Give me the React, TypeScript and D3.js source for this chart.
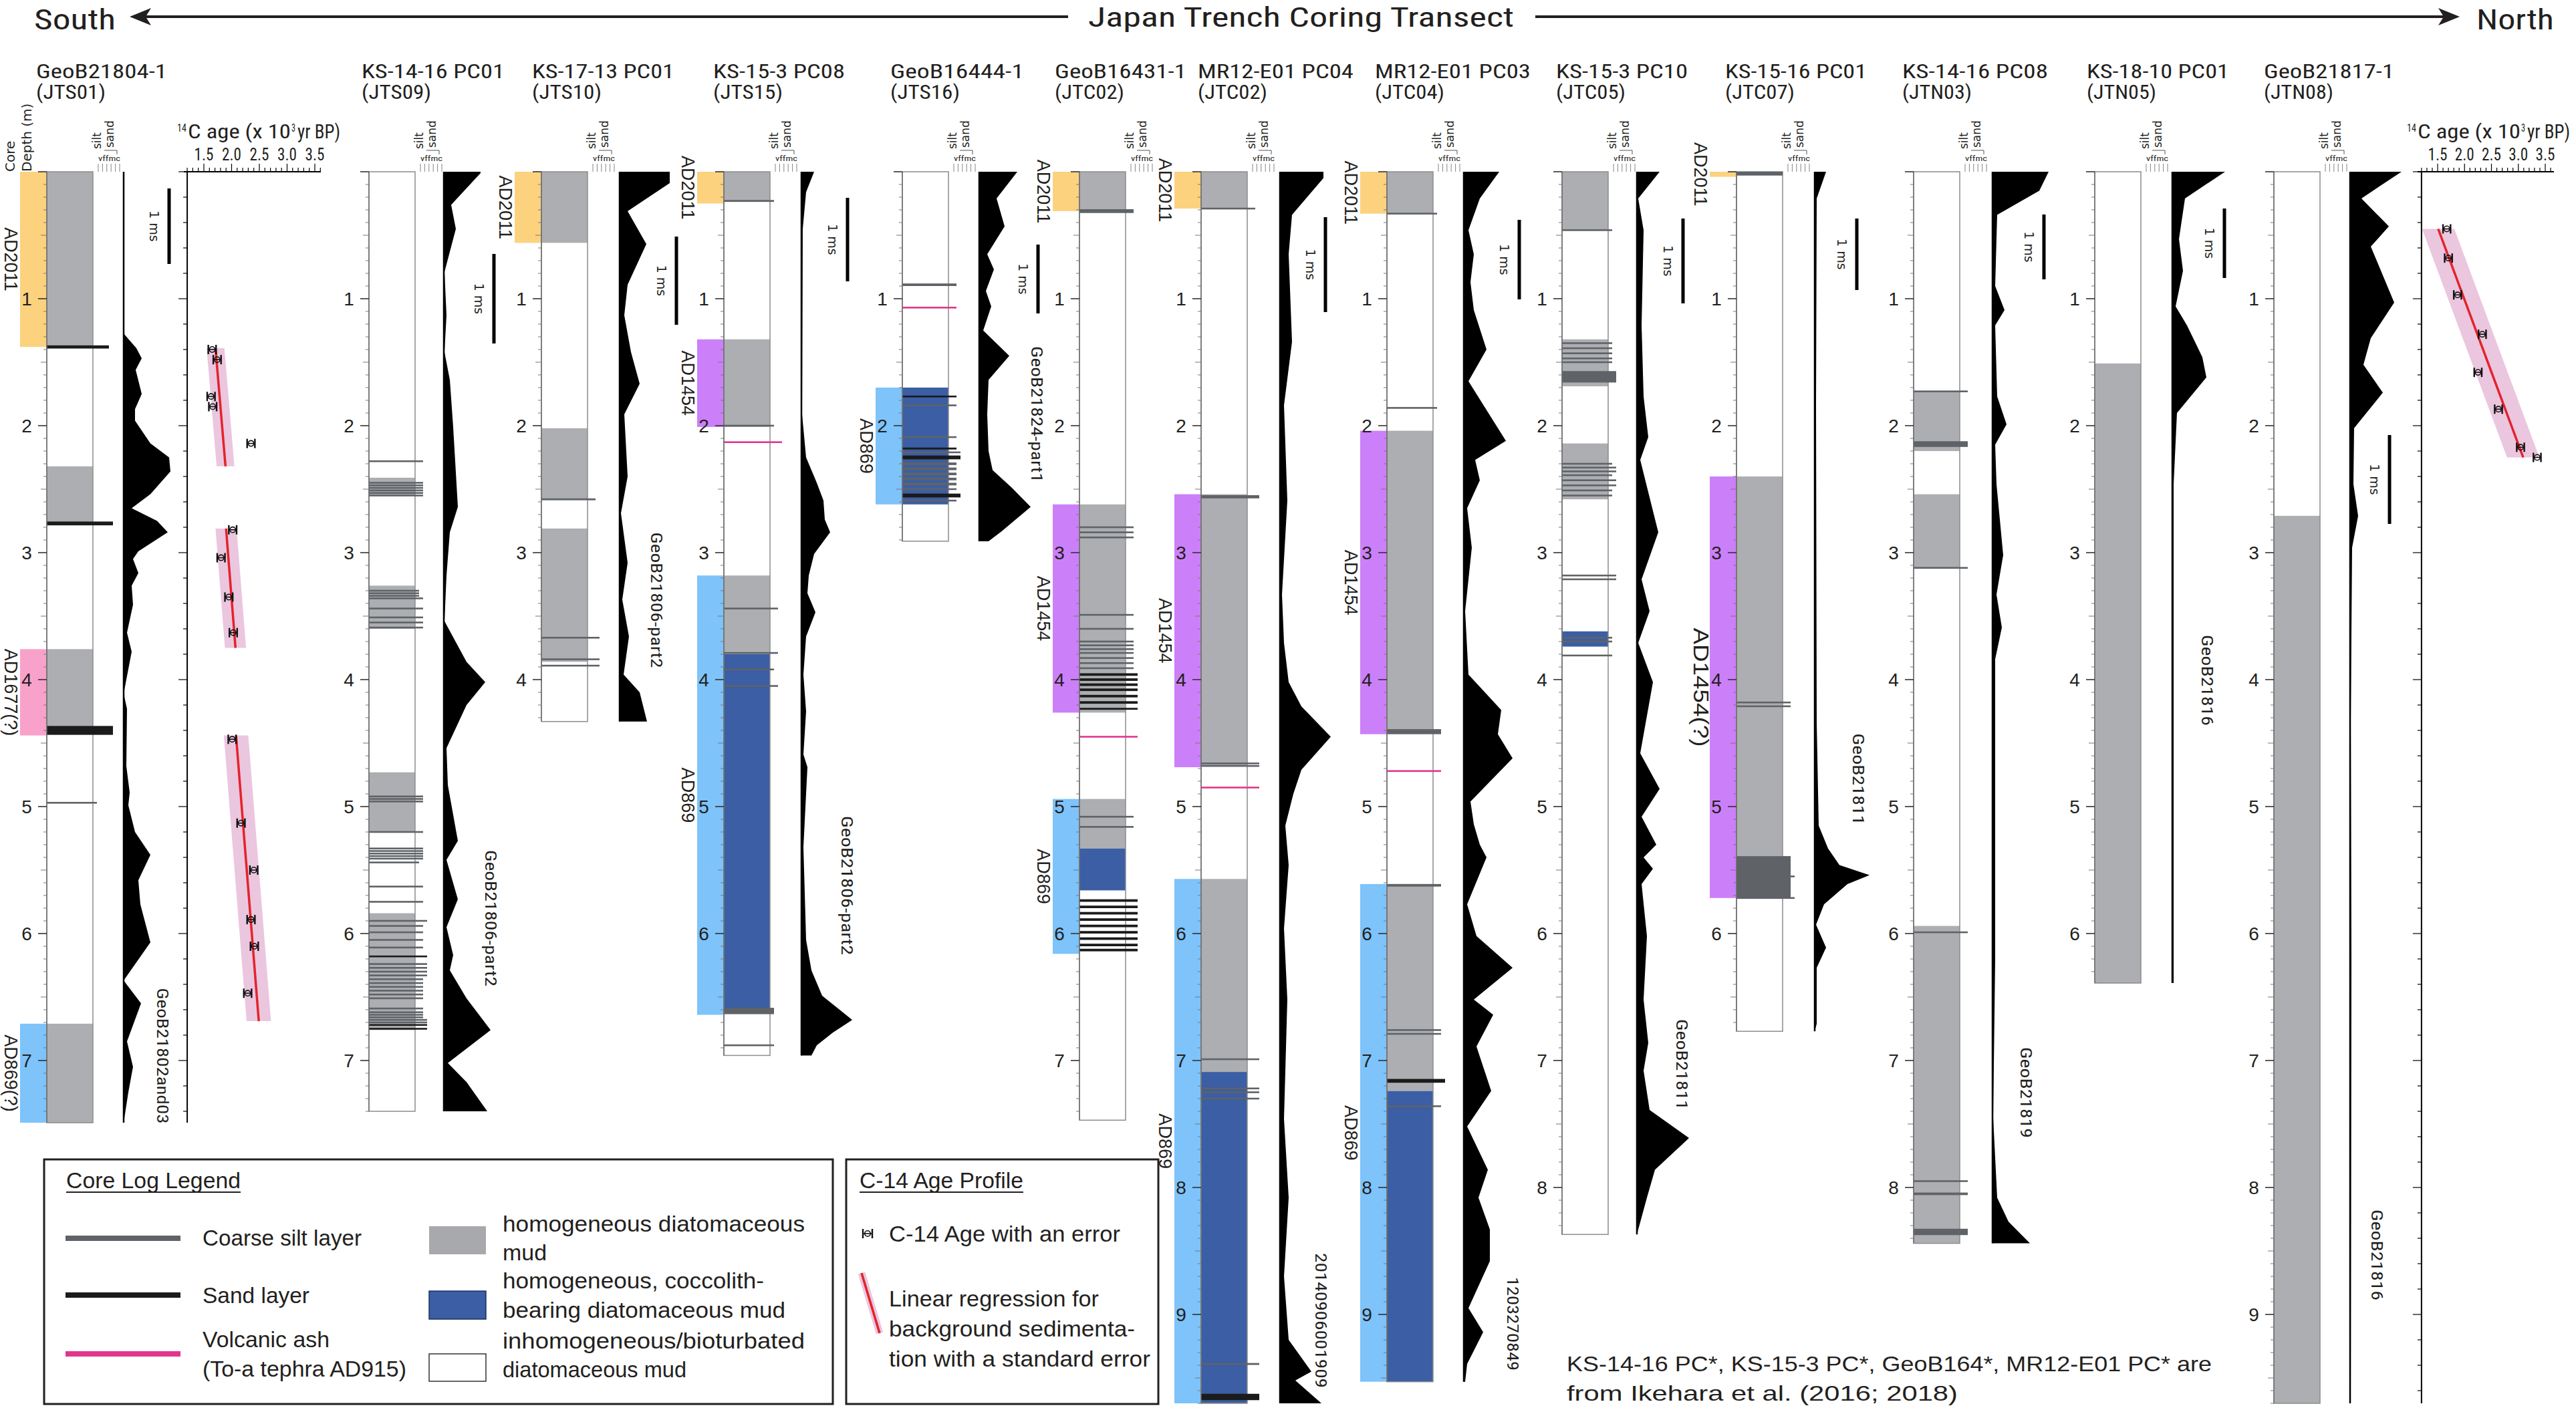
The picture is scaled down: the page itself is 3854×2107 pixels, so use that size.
import React from 'react';
import * as d3 from 'd3';

const W = 3854;
const H = 2107;

// ================= DATA =================
const coreNames = ['GeoB21804-1', 'KS-14-16 PC01', 'KS-17-13 PC01', 'KS-15-3 PC08', 'GeoB16444-1', 'GeoB16431-1', 'MR12-E01 PC04', 'MR12-E01 PC03', 'KS-15-3 PC10', 'KS-15-16 PC01', 'KS-14-16 PC08', 'KS-18-10 PC01', 'GeoB21817-1'];
const coreSites = ['(JTS01)', '(JTS09)', '(JTS10)', '(JTS15)', '(JTS16)', '(JTC02)', '(JTC02)', '(JTC04)', '(JTC05)', '(JTC07)', '(JTN03)', '(JTN05)', '(JTN08)'];
const coreLengths = [7.49, 7.40, 4.33, 6.96, 2.91, 7.47, 9.70, 9.53, 8.37, 6.77, 8.44, 6.39, 9.70];
const profileLabels = ['GeoB21802and03', 'GeoB21806-part2', 'GeoB21806-part2', 'GeoB21806-part2', 'GeoB21824-part1', '', '20140906001909', '1203270849', 'GeoB21811', 'GeoB21811', 'GeoB21819', 'GeoB21816', 'GeoB21816'];

// units: [top m, bottom m, type] g = homogeneous diatomaceous mud, b = coccolith-bearing
const units01 = [[0, 1.38, 'g'], [2.32, 2.77, 'g'], [3.76, 4.37, 'g'], [6.71, 7.49, 'g']];
const units02 = [[2.41, 2.55, 'g'], [3.26, 3.60, 'g'], [4.73, 5.20, 'g'], [5.84, 6.76, 'g']];
const units03 = [[0, 0.56, 'g'], [2.02, 2.58, 'g'], [2.81, 3.86, 'g']];
const units04 = [[0, 0.23, 'g'], [1.32, 2.01, 'g'], [3.18, 3.80, 'g'], [3.80, 6.61, 'b']];
const units05 = [[1.70, 2.62, 'b']];
const units06 = [[0, 0.31, 'g'], [2.62, 4.26, 'g'], [4.94, 5.33, 'g'], [5.33, 5.66, 'b']];
const units07 = [[0, 0.29, 'g'], [2.54, 4.68, 'g'], [5.57, 7.09, 'g'], [7.09, 9.70, 'b']];
const units08 = [[0, 0.33, 'g'], [2.04, 4.40, 'g'], [5.61, 7.24, 'g'], [7.24, 9.53, 'b']];
const units09 = [[0, 0.46, 'g'], [1.32, 1.69, 'g'], [2.14, 2.58, 'g'], [3.62, 3.74, 'b']];
const units10 = [[2.40, 5.39, 'g']];
const units11 = [[1.73, 2.20, 'g'], [2.54, 3.12, 'g'], [5.94, 8.44, 'g']];
const units12 = [[1.51, 6.39, 'g']];
const units13 = [[2.71, 9.70, 'g']];

// event deposits: [top m, bottom m, label]
const events01 = [[0, 1.38, 'AD2011'], [3.76, 4.44, 'AD1677(?)'], [6.71, 7.49, 'AD869(?)']];
const events02 = [];
const events03 = [[0, 0.56, 'AD2011']];
const events04 = [[0, 0.25, 'AD2011'], [1.32, 2.01, 'AD1454'], [3.18, 6.64, 'AD869']];
const events05 = [[1.70, 2.62, 'AD869']];
const events06 = [[0, 0.31, 'AD2011'], [2.62, 4.26, 'AD1454'], [4.94, 6.16, 'AD869']];
const events07 = [[0, 0.29, 'AD2011'], [2.54, 4.69, 'AD1454'], [5.57, 9.70, 'AD869']];
const events08 = [[0, 0.33, 'AD2011'], [2.04, 4.43, 'AD1454'], [5.61, 9.53, 'AD869']];
const events09 = [];
const events10 = [[0, 0.04, 'AD2011'], [2.40, 5.72, 'AD1454(?)']];
const events11 = [];
const events12 = [];
const events13 = [];

// layers: [depth m, type (s coarse silt, S sand, t tephra), thickness cm, grain class 0-5]
const layers01 = [[1.38, 'S', 2.5, 4], [2.77, 'S', 3, 5], [4.40, 'S', 7, 5], [4.97, 's', 1.2, 1]];
const layers02 = [
  [2.28, 's', 1, 2], [2.45, 's', 0.8, 2], [2.47, 's', 0.8, 2], [2.49, 's', 0.8, 2], [2.51, 's', 0.8, 2], [2.53, 's', 0.8, 2], [2.55, 's', 0.8, 2],
  [3.30, 's', 0.8, 1], [3.32, 's', 0.8, 1], [3.34, 's', 0.8, 1], [3.36, 's', 0.8, 2], [3.44, 's', 0.8, 2], [3.51, 's', 0.8, 2], [3.55, 's', 0.8, 2], [3.59, 's', 0.8, 2],
  [4.92, 's', 0.8, 2], [4.94, 's', 0.8, 2], [4.96, 's', 0.8, 2], [5.20, 's', 0.8, 2],
  [5.33, 's', 0.8, 2], [5.35, 's', 0.8, 2], [5.37, 's', 0.8, 2], [5.39, 's', 0.8, 2], [5.41, 's', 0.8, 2], [5.44, 's', 0.6, 1],
  [5.63, 's', 0.8, 2], [5.75, 's', 0.6, 2],
  [5.90, 's', 0.8, 3], [5.94, 's', 0.6, 2], [5.99, 's', 0.6, 2], [6.05, 's', 0.6, 2], [6.11, 's', 0.6, 2], [6.18, 'S', 1.2, 3],
  [6.24, 's', 0.6, 3], [6.27, 's', 0.6, 3], [6.30, 's', 0.6, 3], [6.33, 's', 0.6, 3], [6.36, 's', 0.6, 2], [6.39, 's', 0.6, 2], [6.42, 's', 0.6, 2], [6.45, 's', 0.6, 2], [6.48, 's', 0.6, 2], [6.51, 's', 0.6, 2],
  [6.59, 's', 0.6, 2], [6.62, 's', 0.6, 2], [6.64, 's', 0.6, 2], [6.66, 's', 0.6, 2], [6.68, 's', 0.6, 3], [6.70, 's', 0.6, 3], [6.72, 'S', 0.8, 3], [6.75, 'S', 0.8, 3],
];
const layers03 = [[2.58, 's', 1.5, 2], [3.67, 's', 0.8, 3], [3.84, 's', 0.8, 3], [3.89, 's', 1.2, 3]];
const layers04 = [[0.23, 's', 1.5, 1], [2.0, 's', 1, 1], [2.13, 't', 1.2, 3], [3.44, 's', 1, 2], [3.79, 's', 1, 2], [3.92, 's', 1, 1], [4.05, 's', 1, 2], [6.61, 's', 5, 1], [6.88, 's', 1, 1]];
const layers05 = [[0.89, 's', 2, 2], [1.07, 't', 1, 2], [1.77, 'S', 1.2, 2], [1.84, 's', 1, 2], [2.09, 's', 1, 2], [2.18, 'S', 1.5, 2], [2.21, 's', 1, 3], [2.25, 'S', 3, 3], [2.30, 's', 2, 2], [2.34, 's', 2, 2], [2.38, 's', 2, 2], [2.42, 's', 2, 2], [2.46, 's', 2, 2], [2.50, 's', 1, 2], [2.55, 'S', 3, 3], [2.59, 's', 1, 2]];
const layers06 = [
  [0.31, 's', 3, 2], [2.80, 's', 0.8, 2], [2.84, 's', 0.8, 2], [2.88, 's', 0.8, 2], [3.49, 's', 0.8, 2], [3.60, 's', 0.8, 2], [3.70, 's', 0.8, 2], [3.73, 's', 0.8, 2], [3.76, 's', 0.8, 2], [3.79, 's', 0.8, 2], [3.83, 's', 0.8, 2], [3.87, 's', 0.8, 2], [3.91, 's', 1, 2],
  [3.96, 'S', 2, 3], [4.00, 'S', 2, 3], [4.04, 'S', 2, 3], [4.08, 'S', 2, 3], [4.13, 'S', 2, 3], [4.18, 'S', 2, 3], [4.23, 'S', 1.5, 3],
  [4.45, 't', 0.8, 3], [5.08, 's', 1, 2], [5.16, 's', 1, 2],
  [5.74, 'S', 2, 3], [5.79, 'S', 2, 3], [5.84, 'S', 2, 3], [5.89, 'S', 2, 3], [5.94, 'S', 2, 3], [5.99, 'S', 2, 3], [6.04, 'S', 2, 3], [6.09, 'S', 2, 3], [6.13, 'S', 2, 3],
];
const layers07 = [[0.29, 's', 0.6, 2], [2.56, 's', 2.5, 3], [4.66, 's', 0.6, 3], [4.68, 's', 0.6, 3], [4.85, 't', 0.6, 3], [6.99, 's', 0.6, 3], [7.22, 's', 0.8, 3], [7.25, 's', 0.8, 3], [7.30, 's', 0.8, 3], [9.39, 's', 1.5, 3], [9.65, 'S', 5, 3]];
const layers08 = [[0.33, 's', 1, 1], [1.86, 's', 1, 1], [4.41, 's', 4, 2], [4.72, 't', 0.8, 2], [5.62, 's', 2, 2], [6.76, 's', 0.6, 2], [6.79, 's', 0.6, 2], [7.16, 'S', 3, 3], [7.36, 's', 0.6, 2]];
const layers09 = [[0.46, 's', 0.8, 1], [1.35, 's', 0.6, 1], [1.39, 's', 0.6, 1], [1.43, 's', 0.6, 1], [1.47, 's', 0.6, 1], [1.50, 's', 0.6, 1], [1.615, 's', 9, 2], [2.30, 's', 0.8, 1], [2.33, 's', 0.8, 2], [2.36, 's', 0.8, 2], [2.39, 's', 0.8, 1], [2.43, 's', 0.8, 2], [2.47, 's', 0.8, 2], [2.51, 's', 0.8, 1], [2.55, 's', 0.8, 1], [3.18, 's', 0.6, 2], [3.21, 's', 0.6, 2], [3.67, 's', 0.6, 1], [3.70, 's', 0.6, 1], [3.81, 's', 0.6, 1]];
const layers10 = [[0.015, 's', 3, 0], [4.18, 's', 0.6, 2], [4.21, 's', 0.6, 2], [5.555, 's', 33, 2], [5.55, 's', 0.4, 3], [5.72, 's', 0.4, 3]];
const layers11 = [[1.73, 's', 0.8, 2], [2.145, 's', 4.5, 2], [3.12, 's', 1.2, 2], [5.99, 's', 0.8, 2], [7.95, 's', 0.8, 2], [8.05, 's', 2, 2], [8.35, 's', 5, 2]];
const layers12 = [];
const layers13 = [];

// right-hand black profiles: [depth m, amplitude]
const profile01 = [[0, 1], [1.28, 1], [1.39, 19], [1.47, 27], [1.56, 18], [1.75, 27], [1.87, 17], [1.96, 17], [2.14, 40], [2.25, 68], [2.36, 70], [2.54, 40], [2.65, 12], [2.75, 50], [2.84, 66], [2.99, 22], [3.05, 14], [3.16, 22], [3.26, 12], [3.41, 14], [3.63, 5], [3.78, 12], [4.11, 0], [4.23, 5], [4.68, 4], [4.89, 9], [4.99, 7], [5.20, 17], [5.38, 40], [5.58, 22], [5.77, 25], [6.07, 40], [6.37, 0], [6.55, 26], [6.85, 5], [7.05, 14], [7.25, 7], [7.49, 0]];
const profile02 = [[0, 55], [0.01, 55], [0.26, 11], [0.45, 18], [0.79, 1], [1.13, 4], [1.42, 1], [1.64, 9], [2.01, 14], [2.64, 21], [2.84, 9], [3.18, 4], [3.54, 1], [3.86, 34], [4.02, 62], [4.20, 34], [4.54, 4], [4.83, 6], [5.27, 21], [5.42, 4], [5.73, 21], [5.95, 4], [6.17, 14], [6.29, 9], [6.51, 34], [6.76, 70], [7.02, 6], [7.17, 34], [7.40, 65]];
const profile03 = [[0, 75], [0.09, 75], [0.31, 12], [0.57, 40], [0.89, 12], [1.13, 7], [1.42, 17], [1.67, 30], [1.91, 7], [2.40, 12], [2.69, 2], [3.08, 12], [3.37, 4], [3.66, 14], [3.96, 6], [4.10, 30], [4.33, 41]];
const profile04 = [[0, 19], [0.16, 7], [0.45, 2], [1.91, 1], [2.25, 7], [2.45, 23], [2.59, 33], [2.74, 35], [2.84, 43], [3.01, 19], [3.18, 11], [3.32, 9], [3.47, 21], [3.66, 7], [3.96, 3], [4.25, 7], [4.59, 3], [4.69, 9], [5.32, 3], [6.05, 7], [6.29, 15], [6.49, 31], [6.68, 76], [6.78, 47], [6.88, 23], [6.96, 15]];
const profile05 = [[0, 57], [0.21, 26], [0.43, 38], [0.65, 12], [0.77, 22], [0.94, 10], [1.06, 18], [1.25, 6], [1.45, 45], [1.64, 14], [1.91, 12], [2.20, 14], [2.35, 20], [2.49, 49], [2.64, 77], [2.83, 34], [2.91, 14]];
const profile06 = [];
const profile07 = [[0, 65], [0.05, 65], [0.34, 18], [0.65, 13], [1.34, 18], [1.84, 6], [2.59, 11], [3.33, 3], [3.71, 6], [4.02, 13], [4.21, 32], [4.45, 76], [4.71, 32], [4.90, 20], [5.15, 8], [5.46, 13], [5.96, 6], [6.52, 11], [7.46, 6], [8.08, 13], [8.70, 6], [9.20, 13], [9.45, 47], [9.52, 23], [9.70, 62]];
const profile08 = [[0, 53], [0.21, 24], [0.46, 7], [0.65, 15], [0.87, 10], [1.09, 15], [1.40, 34], [1.65, 7], [2.12, 63], [2.27, 17], [2.43, 24], [2.65, 5], [2.96, 12], [3.46, 2], [3.96, 7], [4.24, 56], [4.43, 51], [4.62, 73], [4.96, 10], [5.14, 15], [5.30, 24], [5.40, 34], [5.77, 5], [6.02, 19], [6.27, 73], [6.52, 15], [6.64, 44], [6.89, 19], [7.24, 41], [7.52, 5], [7.86, 36], [8.08, 22], [8.33, 39], [8.58, 39], [8.95, 7], [9.14, 29], [9.39, 5], [9.53, 2]];
const profile09 = [[0, 34], [0.21, 2], [0.46, 10], [1.21, 7], [1.77, 10], [2.09, 17], [2.27, 5], [2.84, 32], [3.21, 7], [3.46, 19], [3.71, 2], [4.02, 24], [4.58, 5], [4.86, 34], [5.08, 7], [5.30, 29], [5.40, 10], [5.49, 24], [5.61, 7], [6.02, 15], [6.52, 10], [6.86, 17], [7.08, 10], [7.39, 19], [7.61, 78], [7.86, 27], [8.08, 15], [8.37, 0]];
const profile10 = [[0, 17], [0.21, 3], [1.84, 2], [4.34, 3], [5.15, 6], [5.33, 20], [5.46, 37], [5.54, 82], [5.61, 49], [5.77, 14], [5.93, 2], [6.11, 17], [6.27, 3], [6.71, 3], [6.77, 0]];
const profile11 = [[0, 84], [0.15, 70], [0.34, 7], [0.90, 4], [1.09, 18], [1.21, 4], [1.77, 7], [1.99, 21], [2.15, 4], [2.46, 6], [3.02, 16], [3.33, 6], [3.59, 14], [3.84, 4], [6.21, 4], [7.45, 1], [8.08, 7], [8.27, 24], [8.44, 56]];
const profile12 = [[0, 79], [0.21, 19], [0.53, 10], [0.78, 16], [1.06, 5], [1.21, 22], [1.46, 45], [1.62, 51], [1.90, 7], [2.46, 2], [6.39, 2]];
const profile13 = [[0, 77], [0.21, 17], [0.43, 58], [0.59, 31], [1.03, 66], [1.31, 31], [1.52, 20], [1.74, 49], [2.02, 6], [2.46, 5], [2.71, 12], [2.96, 3], [4.33, 1], [6.21, 2], [9.70, 1]];

// C-14 ages: [depth m, age ka BP, error ka]
const agesSouth = [[1.40, 1.65, 0.07], [1.48, 1.74, 0.07], [1.77, 1.63, 0.07], [1.85, 1.66, 0.07], [2.14, 2.35, 0.07], [2.82, 2.02, 0.07], [3.04, 1.81, 0.07], [3.35, 1.95, 0.07], [3.63, 2.03, 0.07], [4.47, 2.01, 0.07], [5.13, 2.17, 0.07], [5.50, 2.40, 0.07], [5.89, 2.35, 0.07], [6.10, 2.41, 0.07], [6.47, 2.29, 0.07]];
// regressions: [top depth, top age, bottom depth, bottom age, std error]
const regsSouth = [[1.39, 1.71, 2.32, 1.89, 0.16], [2.81, 1.90, 3.75, 2.07, 0.19], [4.44, 2.08, 6.69, 2.49, 0.22]];
const agesNorth = [[0.45, 1.67, 0.07], [0.68, 1.70, 0.07], [0.97, 1.87, 0.07], [1.28, 2.33, 0.07], [1.58, 2.25, 0.07], [1.87, 2.63, 0.07], [2.17, 3.04, 0.07], [2.25, 3.35, 0.07]];
const regsNorth = [[0.45, 1.51, 2.25, 3.09, 0.30]];
const ageTickLabels = [1.5, 2.0, 2.5, 3.0, 3.5];

// ================= LAYOUT =================
const coreUnits = [units01, units02, units03, units04, units05, units06, units07, units08, units09, units10, units11, units12, units13];
const coreEvents = [events01, events02, events03, events04, events05, events06, events07, events08, events09, events10, events11, events12, events13];
const coreLayers = [layers01, layers02, layers03, layers04, layers05, layers06, layers07, layers08, layers09, layers10, layers11, layers12, layers13];
const coreProfiles = [profile01, profile02, profile03, profile04, profile05, profile06, profile07, profile08, profile09, profile10, profile11, profile12, profile13];

const coreLeft = [70, 552, 810, 1083, 1350, 1615, 1797, 2075, 2337, 2598, 2863, 3134, 3402];
const CORE_W = 69;
const STRIP_W = 40;
const profBase = [185, 664, 927, 1199, 1465, null, 1915, 2190, 2449, 2715, 2981, 3250, 3516];
const titleX = [54, 541, 796, 1067, 1332, 1578, 1792, 2057, 2328, 2581, 2846, 3122, 3387];
const titleW = [196, 214, 213, 197, 200, 197, 233, 233, 197, 212, 218, 213, 195];
const barPos = [[253, 282, 395], [739, 380, 514], [1012, 354, 486], [1268, 296, 421], [1553, 366, 469], null, [1983, 325, 467], [2273, 329, 448], [2518, 327, 454], [2778, 327, 434], [3058, 321, 418], [3328, 312, 416], [3575, 651, 784]];
const profLabelPos = [[243, 1580, 203], [734, 1374, 204], [982, 898, 203], [1267, 1325, 208], [1551, 620, 204], null, [1976, 1976, 202], [2263, 1981, 140], [2516, 1593, 136], [2780, 1166, 137], [3031, 1635, 136], [3302, 1018, 136], [3556, 1878, 136]];

const COND = "'Liberation Sans Narrow', 'Arial Narrow', 'Roboto Condensed', 'Liberation Sans', Arial, sans-serif";
const SANS = "'Liberation Sans', Arial, sans-serif";
const DJV = "'DejaVu Sans', 'Liberation Sans', sans-serif";
const INK = '#231f20';

const unitColor = { g: '#ACAEB1', b: '#3B5EA4' };
const layerColor = { s: '#5F6368', S: '#1B1B1B', t: '#E0368E' };
const eventColors = { AD2011: '#FCD27F', AD1677: '#F8A2CB', AD1454: '#CB80F9', AD869: '#7EC3FA' };
const eventColor = (lab) => eventColors[lab.replace('(?)', '')] || '#ccc';

const yD = d3.scaleLinear().domain([0, 10]).range([257, 2157]);
const grainX = d3.scaleLinear().domain([0, 5]).range([0, 30]);
const amp = d3.scaleLinear().domain([0, 100]).range([0, 100]);
const xAgeS = d3.scaleLinear().domain([1.5, 3.5]).range([305, 471]);
const xAgeN = d3.scaleLinear().domain([1.5, 3.5]).range([3647, 3808]);

function CoreColumn({ i }) {
  const x0 = coreLeft[i];
  const x1 = x0 + CORE_W;
  const len = coreLengths[i];
  const yTop = yD(0);
  const yBot = yD(len);
  const base = profBase[i];
  const prof = coreProfiles[i];
  const area = d3.area().y((d) => yD(d[0])).x0(base || 0).x1((d) => (base || 0) + amp(d[1]));
  const ticks = d3.range(0, Math.floor(len * 10 + 1e-6) + 1).map((k) => k / 10);
  const labels = d3.range(1, Math.floor(len + 1e-6) + 1);
  const bar = barPos[i];
  const pl = profLabelPos[i];
  return (
    <g>
      <text x={titleX[i]} y={117} fontSize={30} fontFamily={COND} textLength={titleW[i]} lengthAdjust="spacingAndGlyphs" fill={INK}>{coreNames[i]}</text>
      <text x={titleX[i]} y={148} fontSize={30} fontFamily={COND} textLength={104} lengthAdjust="spacingAndGlyphs" fill={INK}>{coreSites[i]}</text>

      {coreEvents[i].map(([a, b, lab], k) => (
        <rect key={'e' + k} x={x0 - STRIP_W} y={yD(a)} width={STRIP_W} height={yD(b) - yD(a)} fill={eventColor(lab)} />
      ))}

      <rect x={x0} y={yTop} width={CORE_W} height={yBot - yTop} fill="#fff" />
      {coreUnits[i].map(([a, b, t], k) => (
        <rect key={'u' + k} x={x0} y={yD(a)} width={CORE_W} height={yD(b) - yD(a)} fill={unitColor[t]} />
      ))}
      <rect x={x0} y={yTop} width={CORE_W} height={yBot - yTop} fill="none" stroke="#8c8c8c" strokeWidth={1.5} />

      {coreLayers[i].map(([d, t, th, g], k) => {
        const h = Math.max(2.6, th * 1.9);
        return <rect key={'l' + k} x={x0} y={yD(d) - h / 2} width={CORE_W + grainX(g)} height={h} fill={layerColor[t]} />;
      })}

      <line x1={x0} x2={x0} y1={yTop} y2={yBot} stroke="#6b6b6b" strokeWidth={1.4} />
      {ticks.map((d, k) => {
        const r = Math.round(d * 10);
        const tl = r % 10 === 0 ? 13 : r % 5 === 0 ? 9 : 5;
        return <line key={'t' + k} x1={x0 - tl} x2={x0} y1={yD(d)} y2={yD(d)} stroke={r % 10 === 0 ? '#333' : '#777'} strokeWidth={r % 10 === 0 ? 1.6 : 1} />;
      })}
      {labels.map((m) => (
        <text key={'d' + m} x={x0 - 30} y={yD(m)} fontSize={28} fontFamily={SANS} fill={INK} textAnchor="middle" dominantBaseline="central">{m}</text>
      ))}

      {coreEvents[i].map(([a, b, lab], k) => {
        const cy = (yD(a) + yD(b)) / 2;
        const cx = x0 - STRIP_W - 14;
        const big = lab === 'AD1454(?)';
        return (
          <text key={'el' + k} transform={`translate(${cx},${cy}) rotate(90)`} fontSize={big ? 31 : 27} fontFamily={SANS} fill={INK} textAnchor="middle" dominantBaseline="central" textLength={big ? 178 : undefined} lengthAdjust="spacingAndGlyphs">{lab}</text>
        );
      })}

      {/* grain size header */}
      <g fill={INK}>
        <text transform={`translate(${x1 + 6},223) rotate(-90)`} fontSize={17} fontFamily={DJV} dominantBaseline="central">silt</text>
        <text transform={`translate(${x1 + 25},221) rotate(-90)`} fontSize={17} fontFamily={DJV} dominantBaseline="central">sand</text>
        <path d={`M${x1 + 17},225 H${x1 + 36} V231`} fill="none" stroke="#555" strokeWidth={1} />
        <text x={x1 + 8} y={241} fontSize={11} fontFamily={COND} textLength={33} lengthAdjust="spacingAndGlyphs">vffmc</text>
        {d3.range(0, 6).map((k) => (
          <line key={'g' + k} x1={x1 + 8 + k * 6.4} x2={x1 + 8 + k * 6.4} y1={245} y2={257} stroke="#666" strokeWidth={0.8} />
        ))}
      </g>

      {base != null && prof.length > 0 && (
        <g>
          <path d={area(prof)} fill="#000" />
          <line x1={base} x2={base} y1={yTop} y2={yBot} stroke="#000" strokeWidth={2.5} />
        </g>
      )}
      {bar && (
        <g>
          <rect x={bar[0] - 2.5} y={bar[1]} width={5} height={bar[2] - bar[1]} fill="#000" />
          <text transform={`translate(${bar[0] - 22},${(bar[1] + bar[2]) / 2}) rotate(90)`} fontSize={19} fontFamily={DJV} fill={INK} textAnchor="middle" dominantBaseline="central">1 ms</text>
        </g>
      )}
      {pl && (
        <text transform={`translate(${pl[0]},${pl[1]}) rotate(90)`} fontSize={24} fontFamily={COND} fill={INK} textAnchor="middle" dominantBaseline="central" textLength={pl[2]} lengthAdjust="spacingAndGlyphs">{profileLabels[i]}</text>
      )}
    </g>
  );
}

function AgeMark({ cx, cy, x0, x1 }) {
  return (
    <g stroke="#111" fill="none">
      <line x1={x0} x2={x1} y1={cy} y2={cy} strokeWidth={1.6} />
      <line x1={x0} x2={x0} y1={cy - 7} y2={cy + 7} strokeWidth={2.4} />
      <line x1={x1} x2={x1} y1={cy - 7} y2={cy + 7} strokeWidth={2.4} />
      <circle cx={cx} cy={cy} r={4.2} strokeWidth={1.6} />
    </g>
  );
}

function AgePanel({ xAge, len, pts, regs, lineX0, lineX1, tx }) {
  const ax = xAge(1.2);
  const topTicks = d3.range(12, 37).map((k) => k / 10);
  const dTicks = d3.range(0, Math.floor(len * 5 + 1e-6) + 1).map((k) => k / 5);
  return (
    <g>
      <g fontFamily={COND} fill={INK}>
        <text x={tx} y={197} fontSize={17} textLength={14} lengthAdjust="spacingAndGlyphs">14</text>
        <text x={tx + 16} y={207} fontSize={29} textLength={154} lengthAdjust="spacingAndGlyphs">C age (x 10</text>
        <text x={tx + 171} y={197} fontSize={17} textLength={6} lengthAdjust="spacingAndGlyphs">3</text>
        <text x={tx + 180} y={207} fontSize={29} textLength={64} lengthAdjust="spacingAndGlyphs">yr BP)</text>
        {ageTickLabels.map((v) => (
          <text key={v} x={xAge(v)} y={240} fontSize={25} textAnchor="middle" textLength={29} lengthAdjust="spacingAndGlyphs">{v.toFixed(1)}</text>
        ))}
      </g>
      <line x1={lineX0} x2={lineX1} y1={257} y2={257} stroke="#000" strokeWidth={2} />
      {topTicks.map((v, k) => {
        const major = Math.round(v * 10) % 5 === 0;
        return <line key={'tt' + k} x1={xAge(v)} x2={xAge(v)} y1={257} y2={257 - (major ? 12 : 6)} stroke="#000" strokeWidth={1.2} />;
      })}
      <line x1={ax} x2={ax} y1={257} y2={yD(len)} stroke="#000" strokeWidth={2} />
      {dTicks.map((d, k) => {
        const major = Math.round(d * 5) % 5 === 0;
        return <line key={'dt' + k} x1={ax - (major ? 13 : 6)} x2={ax} y1={yD(d)} y2={yD(d)} stroke="#000" strokeWidth={1.2} />;
      })}
      {regs.map(([d0, a0, d1, a1, e], k) => (
        <g key={'r' + k}>
          <polygon points={`${xAge(a0 - e)},${yD(d0)} ${xAge(a0 + e)},${yD(d0)} ${xAge(a1 + e)},${yD(d1)} ${xAge(a1 - e)},${yD(d1)}`} fill="#EBC6DF" />
          <line x1={xAge(a0)} y1={yD(d0)} x2={xAge(a1)} y2={yD(d1)} stroke="#E3232B" strokeWidth={3.5} />
        </g>
      ))}
      {pts.map(([d, a, e], k) => (
        <AgeMark key={'p' + k} cx={xAge(a)} cy={yD(d)} x0={xAge(a - e)} x1={xAge(a + e)} />
      ))}
    </g>
  );
}

function Header() {
  return (
    <g>
      <text x={51} y={44} fontSize={42} fontFamily={COND} fill={INK} textLength={122} lengthAdjust="spacingAndGlyphs">South</text>
      <text x={3705} y={44} fontSize={42} fontFamily={COND} fill={INK} textLength={116} lengthAdjust="spacingAndGlyphs">North</text>
      <text x={1628} y={40} fontSize={40} fontFamily={COND} fill={INK} textLength={637} lengthAdjust="spacingAndGlyphs">Japan Trench Coring Transect</text>
      <line x1={212} x2={1598} y1={25} y2={25} stroke={INK} strokeWidth={4} />
      <line x1={2297} x2={3662} y1={25} y2={25} stroke={INK} strokeWidth={4} />
      <polygon points="194,25 226,12 218,25 226,38" fill={INK} />
      <polygon points="3680,25 3648,12 3656,25 3648,38" fill={INK} />
      <text transform="translate(15,257) rotate(-90)" fontSize={20} fontFamily={DJV} fill={INK} dominantBaseline="central">Core</text>
      <text transform="translate(40,257) rotate(-90)" fontSize={20} fontFamily={DJV} fill={INK} dominantBaseline="central">Depth (m)</text>
    </g>
  );
}

function LegendText({ x, y, w, children, size = 33 }) {
  return <text x={x} y={y} fontSize={size} fontFamily={SANS} fill={INK} textLength={w} lengthAdjust="spacingAndGlyphs">{children}</text>;
}

function Legends() {
  return (
    <g>
      <rect x={66} y={1735} width={1180} height={366} fill="#fff" stroke={INK} strokeWidth={3} />
      <LegendText x={99} y={1778} w={261}>Core Log Legend</LegendText>
      <line x1={99} x2={360} y1={1784} y2={1784} stroke={INK} strokeWidth={2} />
      <line x1={98} x2={270} y1={1853} y2={1853} stroke={layerColor.s} strokeWidth={8} />
      <line x1={98} x2={270} y1={1938} y2={1938} stroke={layerColor.S} strokeWidth={8} />
      <line x1={98} x2={270} y1={2026} y2={2026} stroke={layerColor.t} strokeWidth={8} />
      <LegendText x={303} y={1864} w={238}>Coarse silt layer</LegendText>
      <LegendText x={303} y={1950} w={160}>Sand layer</LegendText>
      <LegendText x={303} y={2016} w={190}>Volcanic ash</LegendText>
      <LegendText x={303} y={2060} w={305}>(To-a tephra AD915)</LegendText>
      <rect x={642} y={1835} width={85} height={42} fill="#A8A9AC" />
      <rect x={642} y={1932} width={85} height={42} fill={unitColor.b} stroke="#1d3060" strokeWidth={1.5} />
      <rect x={642} y={2026} width={85} height={41} fill="#fff" stroke="#333" strokeWidth={1.5} />
      <LegendText x={752} y={1843} w={452}>homogeneous diatomaceous</LegendText>
      <LegendText x={752} y={1886} w={66}>mud</LegendText>
      <LegendText x={752} y={1928} w={391}>homogeneous, coccolith-</LegendText>
      <LegendText x={752} y={1972} w={423}>bearing diatomaceous mud</LegendText>
      <LegendText x={752} y={2018} w={452}>inhomogeneous/bioturbated</LegendText>
      <LegendText x={752} y={2061} w={275}>diatomaceous mud</LegendText>

      <rect x={1266} y={1735} width={467} height={366} fill="#fff" stroke={INK} strokeWidth={3} />
      <LegendText x={1286} y={1778} w={245}>C-14 Age Profile</LegendText>
      <line x1={1286} x2={1531} y1={1784} y2={1784} stroke={INK} strokeWidth={2} />
      <AgeMark cx={1298} cy={1846} x0={1291} x1={1305} />
      <LegendText x={1330} y={1858} w={346}>C-14 Age with an error</LegendText>
      <line x1={1289} y1={1905} x2={1316} y2={1995} stroke="#EBC6DF" strokeWidth={11} />
      <line x1={1289} y1={1905} x2={1316} y2={1995} stroke="#E3232B" strokeWidth={3.5} />
      <LegendText x={1330} y={1955} w={314}>Linear regression for</LegendText>
      <LegendText x={1330} y={2000} w={368}>background sedimenta-</LegendText>
      <LegendText x={1330} y={2045} w={391}>tion with a standard error</LegendText>

      <LegendText x={2344} y={2052} w={965} size={32}>KS-14-16 PC*, KS-15-3 PC*, GeoB164*, MR12-E01 PC* are</LegendText>
      <LegendText x={2344} y={2096} w={585} size={32}>from Ikehara et al. (2016; 2018)</LegendText>
    </g>
  );
}

export default function App() {
  return (
    <svg width={W} height={H} viewBox={`0 0 ${W} ${H}`} style={{ position: 'absolute', left: 0, top: 0, display: 'block' }}>
      <rect width={W} height={H} fill="#fff" />
      <Header />
      {coreNames.map((_, i) => <CoreColumn key={i} i={i} />)}
      <AgePanel xAge={xAgeS} len={7.49} pts={agesSouth} regs={regsSouth} lineX0={275} lineX1={480} tx={265} />
      <AgePanel xAge={xAgeN} len={9.70} pts={agesNorth} regs={regsNorth} lineX0={3617} lineX1={3821} tx={3601} />
      <Legends />
    </svg>
  );
}
